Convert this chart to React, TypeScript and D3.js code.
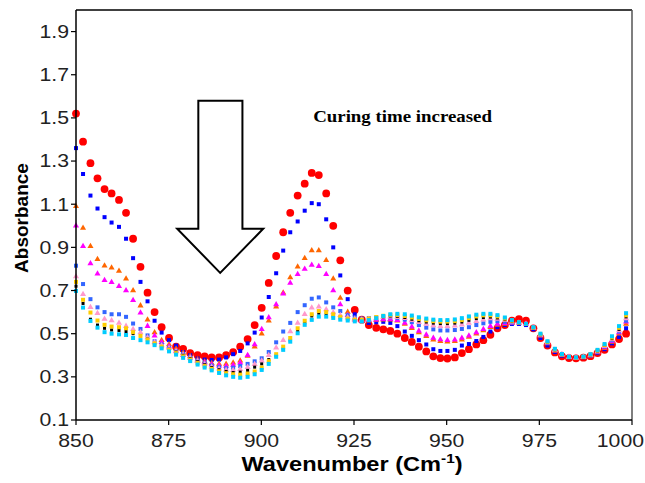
import React from "react";
import * as d3 from "d3";

// wavenumber grid (cm-1), one spectrum point every ~1.93
const wavenumbers = [
  850.0, 851.9, 853.9, 855.8, 857.7, 859.6, 861.6, 863.5, 865.4, 867.4,
  869.3, 871.2, 873.1, 875.1, 877.0, 878.9, 880.8, 882.8, 884.7, 886.6,
  888.6, 890.5, 892.4, 894.3, 896.3, 898.2, 900.1, 902.0, 904.0, 905.9,
  907.8, 909.8, 911.7, 913.6, 915.5, 917.5, 919.4, 921.3, 923.3, 925.2,
  927.1, 929.0, 931.0, 932.9, 934.8, 936.7, 938.7, 940.6, 942.5, 944.5,
  946.4, 948.3, 950.2, 952.2, 954.1, 956.0, 958.0, 959.9, 961.8, 963.7,
  965.7, 967.6, 969.5, 971.4, 973.4, 975.3, 977.2, 979.2, 981.1, 983.0,
  984.9, 986.9, 988.8, 990.7, 992.6, 994.6, 996.5, 998.4,
];

const red = [
  1.52, 1.39, 1.29, 1.22, 1.17, 1.15, 1.12, 1.06, 0.94, 0.81,
  0.69, 0.6, 0.53, 0.48, 0.44, 0.43, 0.41, 0.4, 0.395, 0.39,
  0.39, 0.4, 0.415, 0.44, 0.475, 0.54, 0.62, 0.735, 0.86, 0.97,
  1.06, 1.14, 1.195, 1.245, 1.235, 1.15, 1.0, 0.84, 0.7, 0.61,
  0.565, 0.54, 0.527, 0.52, 0.513, 0.5, 0.48, 0.462, 0.44, 0.418,
  0.395, 0.387, 0.385, 0.39, 0.41, 0.428, 0.45, 0.47, 0.495, 0.525,
  0.54, 0.56, 0.567, 0.56, 0.525, 0.48, 0.445, 0.413, 0.395, 0.387,
  0.386, 0.389, 0.396, 0.41, 0.425, 0.45, 0.475, 0.5,
];
const blue = [
  1.36, 1.24, 1.14, 1.08, 1.04, 1.015, 0.995, 0.94, 0.85, 0.74,
  0.65, 0.56, 0.505, 0.47, 0.445, 0.415, 0.4, 0.385, 0.38, 0.378,
  0.38, 0.39, 0.405, 0.42, 0.455, 0.505, 0.575, 0.67, 0.78, 0.885,
  0.97, 1.02, 1.07, 1.105, 1.1, 1.03, 0.9, 0.77, 0.66, 0.59,
  0.56, 0.55, 0.553, 0.555, 0.55, 0.535, 0.51, 0.49, 0.47, 0.45,
  0.428, 0.42, 0.42, 0.425, 0.445, 0.452, 0.466, 0.485, 0.51, 0.53,
  0.54, 0.545, 0.545, 0.54, 0.52, 0.48, 0.445, 0.415, 0.398, 0.39,
  0.388, 0.39, 0.397, 0.41, 0.428, 0.455, 0.485, 0.525,
];
const orange = [
  1.09, 0.99, 0.905, 0.845, 0.815, 0.805, 0.79, 0.755, 0.7, 0.63,
  0.565, 0.505, 0.47, 0.45, 0.43, 0.41, 0.395, 0.38, 0.37, 0.363,
  0.36, 0.36, 0.365, 0.375, 0.397, 0.44, 0.5, 0.56, 0.625, 0.69,
  0.76, 0.81, 0.85, 0.885, 0.885, 0.84, 0.755, 0.665, 0.6, 0.57,
  0.56, 0.56, 0.563, 0.565, 0.565, 0.56, 0.545, 0.525, 0.505, 0.488,
  0.472, 0.465, 0.463, 0.465, 0.472, 0.485, 0.5, 0.515, 0.53, 0.54,
  0.545, 0.548, 0.548, 0.545, 0.525, 0.49, 0.455, 0.42, 0.4, 0.39,
  0.387, 0.39, 0.398, 0.413, 0.433, 0.462, 0.5, 0.545,
];
const magenta = [
  1.0, 0.905, 0.825, 0.778, 0.748, 0.738, 0.72, 0.7, 0.655, 0.597,
  0.535, 0.49, 0.46, 0.44, 0.42, 0.4, 0.388, 0.375, 0.365, 0.357,
  0.352, 0.35, 0.355, 0.365, 0.4, 0.45, 0.52, 0.575, 0.635, 0.685,
  0.735, 0.775, 0.8, 0.818, 0.812, 0.775, 0.7, 0.635, 0.585, 0.565,
  0.56, 0.562, 0.565, 0.567, 0.567, 0.562, 0.55, 0.532, 0.513, 0.495,
  0.48, 0.473, 0.47, 0.472, 0.48, 0.49, 0.505, 0.52, 0.535, 0.545,
  0.548, 0.55, 0.55, 0.546, 0.527, 0.492, 0.457, 0.422, 0.402, 0.392,
  0.388, 0.391, 0.399, 0.415, 0.436, 0.465, 0.505, 0.555,
];
const lightBlue = [
  0.815, 0.73, 0.66, 0.622, 0.6, 0.59, 0.59, 0.578, 0.547, 0.522,
  0.492, 0.465, 0.45, 0.435, 0.42, 0.405, 0.39, 0.375, 0.362, 0.352,
  0.345, 0.34, 0.342, 0.35, 0.36, 0.372, 0.386, 0.415, 0.46, 0.51,
  0.55, 0.6, 0.632, 0.662, 0.668, 0.645, 0.622, 0.605, 0.585, 0.575,
  0.57, 0.572, 0.575, 0.577, 0.577, 0.573, 0.565, 0.553, 0.54, 0.528,
  0.52, 0.515, 0.515, 0.517, 0.522, 0.53, 0.54, 0.548, 0.555, 0.558,
  0.555, 0.552, 0.55, 0.545, 0.527, 0.493, 0.458, 0.424, 0.403, 0.392,
  0.389, 0.392, 0.4, 0.417, 0.44, 0.47, 0.51, 0.56,
];
const pink = [
  0.765, 0.683, 0.622, 0.595, 0.568, 0.561, 0.55, 0.535, 0.52, 0.505,
  0.482, 0.46, 0.445, 0.432, 0.418, 0.402, 0.387, 0.372, 0.358, 0.346,
  0.337, 0.332, 0.33, 0.335, 0.345, 0.358, 0.375, 0.4, 0.435, 0.47,
  0.51, 0.55, 0.59, 0.62, 0.625, 0.612, 0.598, 0.585, 0.575, 0.568,
  0.565, 0.568, 0.572, 0.576, 0.578, 0.576, 0.571, 0.562, 0.553, 0.545,
  0.538, 0.535, 0.535, 0.537, 0.542, 0.55, 0.558, 0.565, 0.57, 0.568,
  0.562, 0.555, 0.55, 0.544, 0.527, 0.494, 0.459, 0.424, 0.403, 0.392,
  0.389, 0.392, 0.401, 0.418, 0.442, 0.473, 0.515, 0.57,
];
const black = [
  0.72, 0.64, 0.567, 0.54, 0.525, 0.517, 0.515, 0.51, 0.5, 0.49,
  0.475, 0.455, 0.44, 0.428, 0.415, 0.4, 0.385, 0.37, 0.356, 0.343,
  0.333, 0.325, 0.32, 0.322, 0.33, 0.345, 0.36, 0.38, 0.397, 0.43,
  0.47, 0.51, 0.55, 0.582, 0.595, 0.59, 0.58, 0.572, 0.566, 0.562,
  0.562, 0.566, 0.572, 0.578, 0.582, 0.58, 0.575, 0.567, 0.56, 0.554,
  0.549, 0.547, 0.547, 0.549, 0.554, 0.562, 0.57, 0.575, 0.577, 0.573,
  0.565, 0.557, 0.55, 0.544, 0.527, 0.495, 0.46, 0.425, 0.403, 0.392,
  0.389, 0.392, 0.402, 0.42, 0.445, 0.477, 0.52, 0.578,
];
const yellow = [
  0.74, 0.657, 0.598, 0.561, 0.541, 0.533, 0.53, 0.525, 0.507, 0.49,
  0.473, 0.455, 0.44, 0.425, 0.41, 0.395, 0.38, 0.364, 0.35, 0.337,
  0.326, 0.317, 0.312, 0.31, 0.315, 0.325, 0.343, 0.373, 0.405, 0.44,
  0.48, 0.525, 0.56, 0.59, 0.605, 0.6, 0.59, 0.578, 0.57, 0.565,
  0.565, 0.57, 0.577, 0.583, 0.587, 0.586, 0.582, 0.575, 0.568, 0.562,
  0.558, 0.556, 0.556, 0.558, 0.563, 0.572, 0.58, 0.585, 0.585, 0.58,
  0.57, 0.56, 0.552, 0.545, 0.528, 0.497, 0.462, 0.427, 0.404, 0.392,
  0.389, 0.393, 0.403, 0.422, 0.448, 0.482, 0.527, 0.585,
];
const cyan = [
  0.698, 0.621, 0.559, 0.528, 0.507, 0.5, 0.497, 0.494, 0.48, 0.47,
  0.46, 0.447, 0.432, 0.418, 0.403, 0.388, 0.373, 0.357, 0.343, 0.33,
  0.318, 0.307, 0.3, 0.296, 0.3, 0.312, 0.332, 0.36, 0.393, 0.425,
  0.463, 0.502, 0.541, 0.564, 0.579, 0.579, 0.573, 0.565, 0.561, 0.557,
  0.557, 0.563, 0.572, 0.582, 0.59, 0.592, 0.59, 0.584, 0.576, 0.57,
  0.565, 0.563, 0.563, 0.566, 0.572, 0.58, 0.588, 0.592, 0.592, 0.586,
  0.575, 0.563, 0.553, 0.546, 0.53, 0.5, 0.465, 0.43, 0.406, 0.393,
  0.39, 0.394, 0.405, 0.425, 0.452, 0.488, 0.535, 0.595,
];

// drawn in this order, cyan last (on top)
const series = [
  { values: red, color: "#FF0000", shape: "circle" },
  { values: blue, color: "#0000FF", shape: "square" },
  { values: orange, color: "#FF6600", shape: "triangle" },
  { values: magenta, color: "#FF00FF", shape: "triangle" },
  { values: lightBlue, color: "#3366FF", shape: "square" },
  { values: pink, color: "#FF99CC", shape: "triangle" },
  { values: black, color: "#000000", shape: "small" },
  { values: yellow, color: "#FFCC00", shape: "square" },
  { values: cyan, color: "#00CCFF", shape: "square" },
];

const xTicks = [850, 875, 900, 925, 950, 975, 1000];
const yTicks = [0.1, 0.3, 0.5, 0.7, 0.9, 1.1, 1.3, 1.5, 1.7, 1.9];

// annotation arrow, in data units
const arrowPts: [number, number][] = [
  [883.0, 1.58], [894.9, 1.58], [894.9, 0.986], [900.5, 0.986],
  [888.9, 0.782], [877.3, 0.986], [883.0, 0.986],
];

const W = 645;
const H = 483;
const plot = { left: 76, right: 632, top: 10, bottom: 420 };
const sans = "'Liberation Sans', Arial, sans-serif";
const SX = 1.18; // the original figure's text is a bit wide

const tri = d3.symbol().type(d3.symbolTriangle).size(16)();

const Marker = ({ shape, color }: { shape: string; color: string }) => {
  if (shape === "circle") return <circle r={3.9} fill={color} />;
  if (shape === "triangle") return <path d={tri || ""} fill={color} />;
  if (shape === "small") return <rect x={-1.5} y={-1.5} width={3} height={3} fill={color} />;
  return <rect x={-2} y={-2} width={4} height={4} fill={color} />;
};

const WideText = ({ x, y, anchor, children, ...rest }: any) => (
  <g transform={`translate(${x},${y}) scale(${SX},1)`}>
    <text textAnchor={anchor} {...rest}>
      {children}
    </text>
  </g>
);

export default function App() {
  const x = d3.scaleLinear().domain([850, 1000]).range([plot.left, plot.right]);
  const y = d3.scaleLinear().domain([0.1, 2.0]).range([plot.bottom, plot.top]);

  const arrowPath = d3.line()(arrowPts.map(([w, v]) => [x(w), y(v)] as [number, number])) + "Z";

  return (
    <svg
      width={W}
      height={H}
      style={{ position: "absolute", left: 0, top: 0, background: "#fff" }}
    >
      <rect x={0} y={0} width={W} height={H} fill="#fff" />

      {/* data */}
      {series.map((s, si) => (
        <g key={si}>
          {s.values.map((v, i) => (
            <g key={i} transform={`translate(${x(wavenumbers[i])},${y(v)})`}>
              <Marker shape={s.shape} color={s.color} />
            </g>
          ))}
        </g>
      ))}

      {/* frame */}
      <line x1={plot.left} x2={plot.right} y1={plot.top} y2={plot.top} stroke="#000" strokeWidth={1.5} />
      <line x1={plot.right} x2={plot.right} y1={plot.top} y2={plot.bottom} stroke="#555" strokeWidth={1.5} />
      <line x1={plot.left} x2={plot.left} y1={plot.top} y2={plot.bottom} stroke="#000" strokeWidth={1.5} />
      <line x1={plot.left} x2={plot.right} y1={plot.bottom} y2={plot.bottom} stroke="#000" strokeWidth={1.5} />

      {/* y axis */}
      {yTicks.map((t) => (
        <g key={t}>
          <line x1={plot.left - 5} x2={plot.left} y1={y(t)} y2={y(t)} stroke="#000" strokeWidth={1.2} />
          <WideText x={plot.left - 7} y={y(t)} anchor="end" dy="0.35em" fontFamily={sans} fontSize={18} fill="#222">
            {t.toFixed(1)}
          </WideText>
        </g>
      ))}

      {/* x axis */}
      {xTicks.map((t, i) => {
        const last = i === xTicks.length - 1;
        return (
          <g key={t}>
            <line x1={x(t)} x2={x(t)} y1={plot.bottom} y2={plot.bottom + 5} stroke="#000" strokeWidth={1.2} />
            <WideText
              x={last ? W - 1 : x(t)}
              y={plot.bottom + 27}
              anchor={last ? "end" : "middle"}
              fontFamily={sans}
              fontSize={18}
              fill="#222"
            >
              {t}
            </WideText>
          </g>
        );
      })}

      {/* titles */}
      <WideText x={352} y={471} anchor="middle" fontFamily={sans} fontSize={20} fontWeight="bold" fill="#000">
        Wavenumber (Cm<tspan dy={-8} fontSize={13}>-1</tspan>
        <tspan dy={8}>)</tspan>
      </WideText>
      <text
        transform={`translate(28,218) rotate(-90)`}
        textAnchor="middle"
        fontFamily={sans}
        fontSize={19}
        fontWeight="bold"
        fill="#000"
      >
        Absorbance
      </text>

      {/* annotation */}
      <path d={arrowPath} fill="#fff" stroke="#000" strokeWidth={2} strokeLinejoin="miter" />
      <WideText
        x={x(938.1)}
        y={y(1.482)}
        anchor="middle"
        fontFamily="'Liberation Serif', 'Times New Roman', serif"
        fontSize={16}
        fontWeight="bold"
        fill="#000"
      >
        Curing time increased
      </WideText>
    </svg>
  );
}
